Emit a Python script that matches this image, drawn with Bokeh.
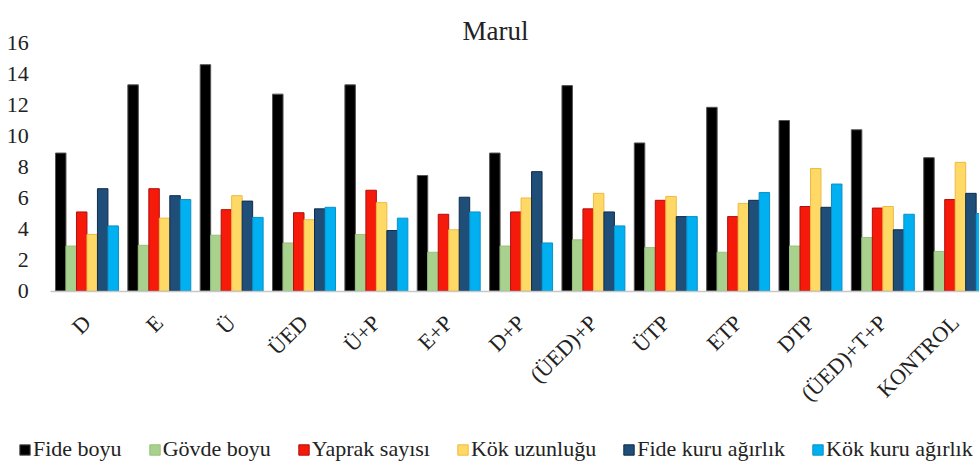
import numpy as np
from bokeh.plotting import figure
from bokeh.models import (ColumnDataSource, Range1d, FixedTicker, Legend, LegendItem, Label)
from bokeh.transform import dodge
from bokeh.embed import file_html
from bokeh.resources import INLINE

title_text = "Marul"
categories = ["D", "E", "Ü", "ÜED", "Ü+P", "E+P", "D+P", "(ÜED)+P",
              "ÜTP", "ETP", "DTP", "(ÜED)+T+P", "KONTROL"]
series_names = ["Fide boyu", "Gövde boyu", "Yaprak sayısı", "Kök uzunluğu",
                "Fide kuru ağırlık", "Kök kuru ağırlık"]
fide_boyu = [8.9, 13.3, 14.6, 12.7, 13.3, 7.45, 8.9, 13.25, 9.55, 11.85, 11.0, 10.4, 8.6]
govde_boyu = [2.9, 2.95, 3.6, 3.1, 3.65, 2.5, 2.9, 3.3, 2.8, 2.5, 2.9, 3.45, 2.55]
yaprak_sayisi = [5.1, 6.6, 5.25, 5.05, 6.5, 4.95, 5.1, 5.3, 5.85, 4.8, 5.45, 5.35, 5.9]
kok_uzunlugu = [3.65, 4.7, 6.15, 4.6, 5.7, 3.95, 6.0, 6.3, 6.1, 5.65, 7.9, 5.45, 8.3]
fide_kuru_agirlik = [6.6, 6.15, 5.8, 5.3, 3.9, 6.05, 7.7, 5.1, 4.8, 5.85, 5.4, 3.95, 6.3]
kok_kuru_agirlik = [4.2, 5.9, 4.75, 5.4, 4.7, 5.1, 3.1, 4.2, 4.8, 6.35, 6.9, 4.95, 5.0]
y_ticks = [0, 2, 4, 6, 8, 10, 12, 14, 16]

colors = ["#000000", "#a9d18e", "#f51a0a", "#ffd966", "#1f4e79", "#00b0f0"]
edges = ["#555555", "#98c07e", "#b01010", "#f0b840", "#0f2c4c", "#0a90c8"]

FONT = "Liberation Serif"
series = [fide_boyu, govde_boyu, yaprak_sayisi, kok_uzunlugu, fide_kuru_agirlik, kok_kuru_agirlik]
keys = ["s%d" % i for i in range(len(series))]
n_cat = len(categories)
data = {"x": np.arange(n_cat) + 0.5}
for k, s in zip(keys, series):
    data[k] = s
src = ColumnDataSource(data)

# the frame covers the whole canvas; axes are pinned at the data origin
p = figure(width=979, height=466, output_backend="svg", toolbar_location=None,
           x_range=Range1d(-0.695, 12.836), y_range=Range1d(-11.32, 18.74),
           min_border_left=0, min_border_right=0, min_border_top=0,
           min_border_bottom=0)
p.outline_line_color = None
p.xgrid.visible = False
p.ygrid.visible = False

bw = 0.145
renderers = []
for i, k in enumerate(keys):
    off = (i - 2.5) * bw
    r = p.vbar(x=dodge("x", off, range=p.x_range), top=k, width=bw, source=src,
               fill_color=colors[i], line_color=edges[i], line_width=1)
    renderers.append(r)

p.yaxis.fixed_location = 0
p.yaxis.bounds = (0, 16)
p.yaxis.ticker = FixedTicker(ticks=y_ticks)
p.yaxis.axis_line_color = None
p.yaxis.major_tick_line_color = None
p.yaxis.minor_tick_line_color = None
p.yaxis.major_label_standoff = 16
p.yaxis.major_label_text_font = FONT
p.yaxis.major_label_text_font_size = "22px"
p.yaxis.major_label_text_color = "#222222"

p.xaxis.fixed_location = 0
p.xaxis.bounds = (0, n_cat)
p.xaxis.ticker = FixedTicker(ticks=list(data["x"]))
p.xaxis.major_label_overrides = {float(x): c for x, c in zip(data["x"], categories)}
p.xaxis.major_label_orientation = np.pi / 4
p.xaxis.axis_line_color = "#c8c8c8"
p.xaxis.axis_line_width = 1.5
p.xaxis.major_tick_line_color = None
p.xaxis.minor_tick_line_color = None
p.xaxis.major_label_standoff = 22
p.xaxis.major_label_text_font = FONT
p.xaxis.major_label_text_font_size = "22px"
p.xaxis.major_label_text_color = "#222222"

title = Label(x=495, y=436, x_units="screen", y_units="screen", text=title_text,
              text_align="center", text_baseline="alphabetic",
              text_font=FONT, text_font_size="27px", text_color="#222222")
p.add_layout(title)

items = [LegendItem(label=n, renderers=[r]) for n, r in zip(series_names, renderers)]
legend = Legend(items=items, orientation="horizontal", location=(18, 4),
                glyph_width=13, glyph_height=13, label_standoff=2, spacing=26,
                padding=0, margin=0, border_line_color=None,
                background_fill_alpha=0,
                label_text_font=FONT, label_text_font_size="22px",
                label_text_color="#222222")
p.add_layout(legend, "center")

open("out.html", "w").write(file_html(p, INLINE))
